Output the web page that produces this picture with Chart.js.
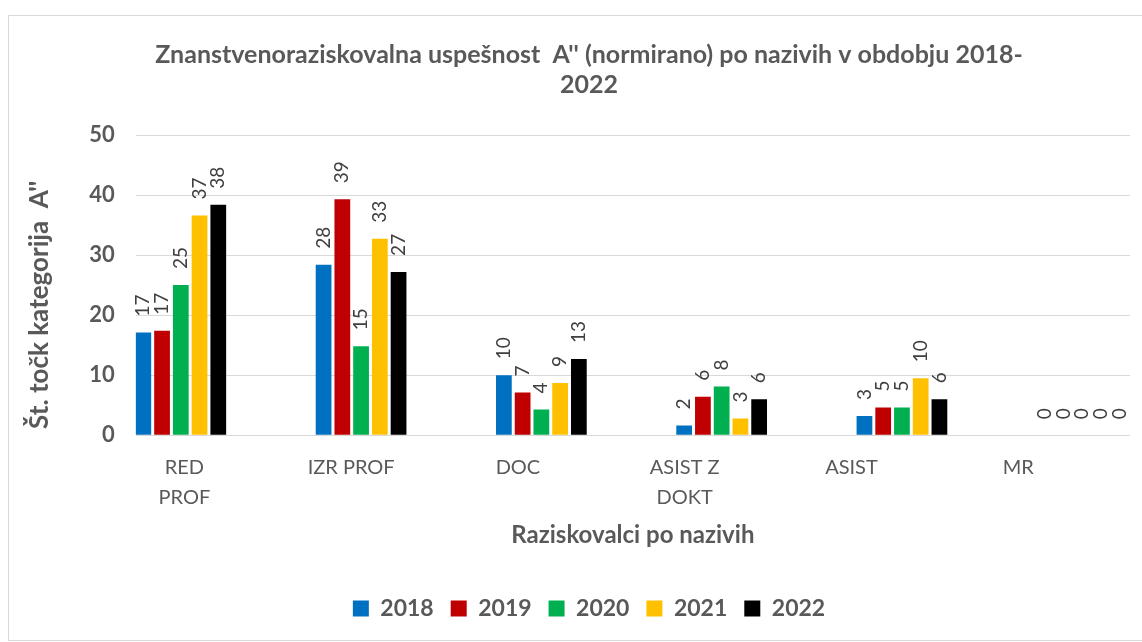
<!DOCTYPE html>
<html>
<head>
<meta charset="utf-8">
<script src="https://cdn.jsdelivr.net/npm/chart.js@4"></script>
<style>
    body { margin: 0; background: #fff; overflow: hidden; }
    #frame {
        position: absolute; left: 8px; top: 15px;
        width: 1160px; height: 624px;
        border: 1px solid #d9d9d9;
    }
    #wrap { position: absolute; left: 0; top: 0; width: 1133px; height: 624px; }
</style>
</head>
<body>
<div id="frame"><div id="wrap"><canvas id="chart"></canvas></div></div>
<script>
// Podatki
const categories = [['RED', 'PROF'], 'IZR PROF', 'DOC', ['ASIST Z', 'DOKT'], 'ASIST', 'MR'];
const years = ['2018', '2019', '2020', '2021', '2022'];
const values2018 = [17.1, 28.4, 10.0, 1.6, 3.2, 0];
const values2019 = [17.4, 39.3, 7.1, 6.4, 4.6, 0];
const values2020 = [25.0, 14.8, 4.3, 8.1, 4.6, 0];
const values2021 = [36.6, 32.7, 8.7, 2.8, 9.5, 0];
const values2022 = [38.4, 27.2, 12.7, 6.0, 6.0, 0];
const yTicks = [0, 10, 20, 30, 40, 50];

const colors = ['#0070C0', '#C00000', '#00B050', '#FFC000', '#000000'];
const series = [values2018, values2019, values2020, values2021, values2022];
const FONT = 'Lato';

// Oznake nad stolpci (zasukane)
const barLabels = {
    id: 'barLabels',
    afterDatasetsDraw(chart) {
        const ctx = chart.ctx;
        ctx.save();
        ctx.font = '19px ' + FONT;
        ctx.fillStyle = '#404040';
        ctx.textAlign = 'left';
        ctx.textBaseline = 'middle';
        chart.data.datasets.forEach((ds, di) => {
            chart.getDatasetMeta(di).data.forEach((bar, i) => {
                ctx.save();
                ctx.translate(bar.x, bar.y - 16);
                ctx.rotate(-Math.PI / 2);
                ctx.fillText(Math.round(ds.data[i].y), 0, 0);
                ctx.restore();
            });
        });
        ctx.restore();
    }
};

new Chart(document.getElementById('chart'), {
    type: 'bar',
    data: {
        datasets: years.map((y, k) => ({
            label: y,
            data: series[k].map((v, i) => ({ x: i, y: v })),
            backgroundColor: colors[k],
            categoryPercentage: 0.562,
            barPercentage: 0.84
        }))
    },
    options: {
        responsive: true,
        maintainAspectRatio: false,
        animation: false,
        layout: { autoPadding: false, padding: { left: 39, right: 12, top: 20, bottom: 10 } },
        plugins: {
            title: {
                display: true,
                text: ['Znanstvenoraziskovalna uspešnost  A\'\' (normirano) po nazivih v obdobju 2018-', '2022'],
                color: '#595959',
                font: { family: FONT, size: 25, weight: 'bold', lineHeight: 1.2 },
                padding: { top: 4, bottom: 35 }
            },
            legend: {
                position: 'bottom',
                labels: {
                    boxWidth: 16, boxHeight: 16,
                    padding: 17,
                    color: '#595959',
                    font: { family: FONT, size: 23, weight: 'bold' }
                }
            },
            tooltip: { enabled: false }
        },
        scales: {
            x: {
                type: 'linear',
                offset: false,
                min: -0.25,
                max: 5.265,
                grid: { display: false },
                border: { display: false },
                afterBuildTicks: (scale) => {
                    scale.ticks = categories.map((c, i) => ({ value: 0.02 + i * 0.925 }));
                },
                ticks: {
                    autoSkip: false, maxRotation: 0, minRotation: 0,
                    padding: 9,
                    color: '#595959',
                    font: { family: FONT, size: 20, lineHeight: 1.5 },
                    callback: (value, index) => categories[index]
                },
                title: {
                    display: true,
                    text: 'Raziskovalci po nazivih',
                    color: '#595959',
                    font: { family: FONT, size: 24, weight: 'bold' },
                    padding: { top: 0, bottom: 30 }
                }
            },
            y: {
                min: 0, max: 50,
                afterBuildTicks: (scale) => {
                    scale.ticks = yTicks.map(v => ({ value: v }));
                },
                grid: { color: '#d9d9d9', drawTicks: false },
                border: { display: false },
                ticks: {
                    padding: 21,
                    color: '#595959',
                    font: { family: FONT, size: 22, weight: 'bold' }
                },
                title: {
                    display: true,
                    align: 'start',
                    text: ' Št. točk kategorija  A\'\'',
                    color: '#595959',
                    font: { family: FONT, size: 26, weight: 'bold' },
                    padding: { top: -24, bottom: 13 }
                }
            }
        }
    },
    plugins: [barLabels]
});
</script>
</body>
</html>
